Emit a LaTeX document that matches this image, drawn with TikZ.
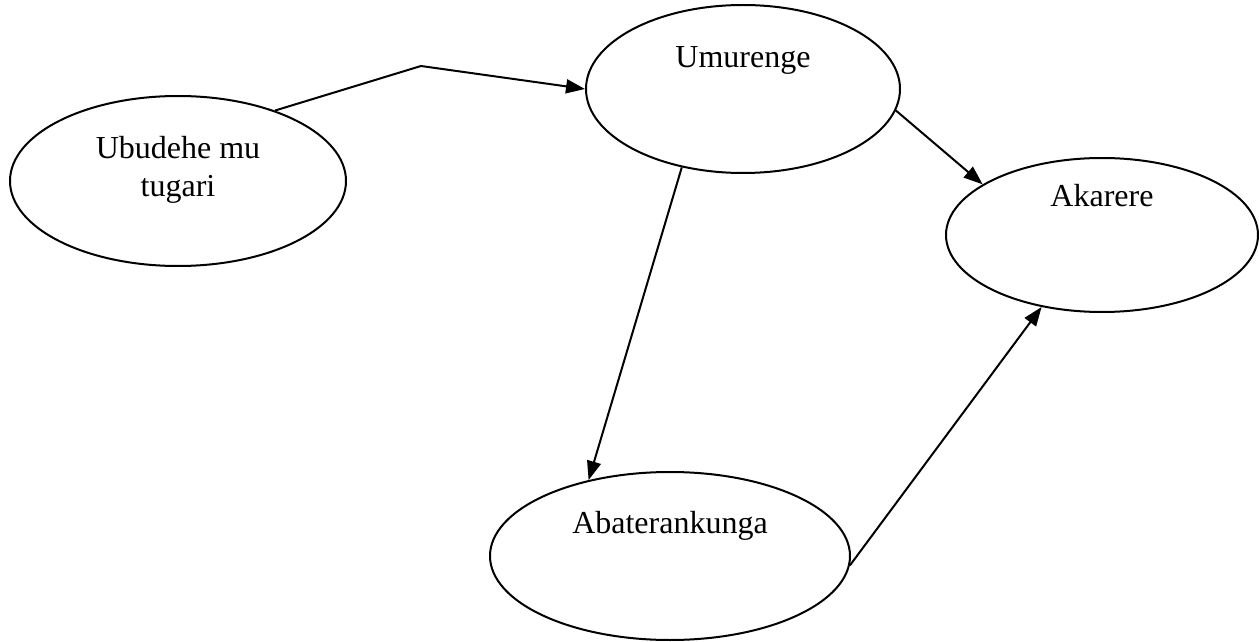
\documentclass[tikz,border=0pt]{standalone}
\usepackage{fontspec}
\setmainfont{Liberation Serif}
\usetikzlibrary{shapes.geometric,arrows.meta}
\tikzset{
  oval/.style={draw,ellipse,line width=1pt,inner sep=0pt},
  lbl/.style={anchor=base,inner sep=0pt,font=\fontsize{16}{19}\selectfont}
}
\begin{document}
\begin{tikzpicture}[x=0.5pt,y=-0.5pt,line width=1pt,>={Triangle[length=9.5pt,width=7pt]}]
    \useasboundingbox (0,0) rectangle (1259,642);
    \node [oval,minimum width=168pt,minimum height=85pt] (ubudehe) at (178,181) {};
    \node [oval,minimum width=157pt,minimum height=84pt] (umurenge) at (743,89) {};
    \node [oval,minimum width=156pt,minimum height=77pt] (akarere) at (1102,235) {};
    \node [oval,minimum width=180pt,minimum height=84pt] (abaterankunga) at (670,556) {};
    \node [lbl,align=center] (t1) at (178,197) {Ubudehe mu\\tugari};
    \node [lbl] (t2) at (743,68) {Umurenge};
    \node [lbl] (t3) at (1102,206) {Akarere};
    \node [lbl] (t4) at (670,533) {Abaterankunga};
    \coordinate (bend) at (421,66);
    \draw [->] (ubudehe.36)--(bend)--(umurenge.west);
    \draw [->] (umurenge.-8.5)--(akarere.157);
    \draw [->] (umurenge.232.6)--(abaterankunga.137);
    \draw [->] (abaterankunga.-3.8)--(akarere.230.2);
  \end{tikzpicture}
\end{document}
